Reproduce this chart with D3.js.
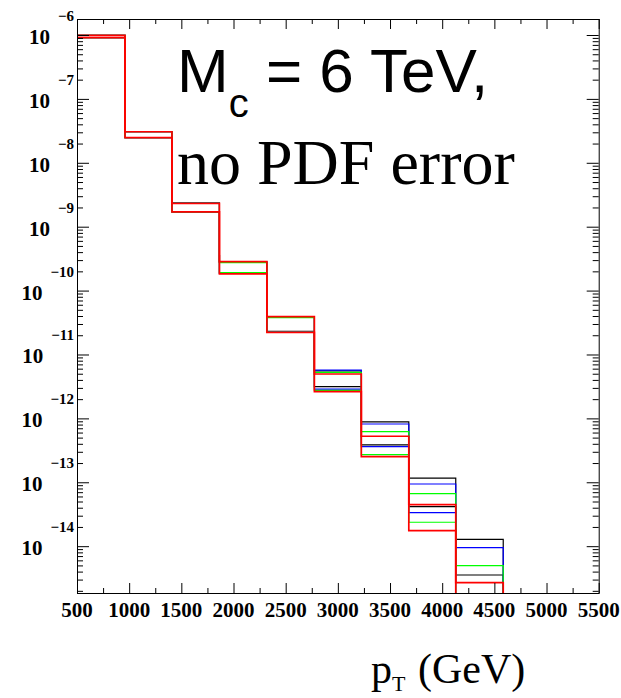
<!DOCTYPE html>
<html>
<head>
<meta charset="UTF-8">
<style>
  * { margin: 0; padding: 0; }
  body { background: #fff; }
  svg { display: block; }
  .lbl { font-family: "Liberation Serif", serif; font-weight: bold; font-size: 21px; fill: #000; }
  .tick line { stroke: #000; }
  .domain { display: none; }
</style>
<script src="https://d3js.org/d3.v7.min.js"></script>
<title>pT spectrum</title>
</head>
<body>
<svg id="chart" width="621" height="698"></svg>
<script>
// bin edges in GeV
var binEdges = [500, 960, 1410, 1865, 2320, 2775, 3225, 3680, 4130, 4585];

// upper / lower curves per colour
var blackUp = [9.88e-7, 3.06e-8, 2.38e-9, 2.80e-10, 3.85e-11, 5.52e-12, 8.79e-13, 1.16e-13, 1.28e-14];
var blackDn = [9.07e-7, 2.47e-8, 1.71e-9, 1.88e-10, 2.31e-11, 3.13e-12, 3.84e-13, 4.16e-14, 3.54e-15];
var blueUp  = [9.88e-7, 3.06e-8, 2.39e-9, 2.78e-10, 3.80e-11, 5.71e-12, 8.17e-13, 9.40e-14, 9.48e-15];
var blueDn  = [9.07e-7, 2.47e-8, 1.71e-9, 1.86e-10, 2.28e-11, 2.88e-12, 3.61e-13, 3.35e-14, 1.50e-15];
var greenUp = [9.88e-7, 3.06e-8, 2.35e-9, 2.73e-10, 3.77e-11, 5.26e-12, 6.19e-13, 6.63e-14, 4.96e-15];
var greenDn = [9.07e-7, 2.47e-8, 1.70e-9, 1.91e-10, 2.25e-11, 2.75e-12, 2.70e-13, 2.37e-14, 1.10e-15];
var redUp   = [9.88e-7, 3.06e-8, 2.32e-9, 2.83e-10, 3.91e-11, 4.95e-12, 5.25e-13, 4.47e-14, 2.69e-15];
var redDn   = [9.07e-7, 2.47e-8, 1.70e-9, 1.82e-10, 2.22e-11, 2.62e-12, 2.52e-13, 1.75e-14, 0.80e-15];

var xTickLabels = [500, 1000, 1500, 2000, 2500, 3000, 3500, 4000, 4500, 5000, 5500];
var yDecades = [-6, -7, -8, -9, -10, -11, -12, -13, -14];

var svg = d3.select("#chart");
var pL = 77, pR = 598.7, pT = 19, pB = 593;

var x = d3.scaleLinear().domain([500, 5500]).range([pL, pR]);
var y = d3.scaleLog().domain([1.85e-15, 1.78e-6]).range([pB, pT]);

svg.append("clipPath").attr("id", "clip")
    .append("rect")
    .attr("x", pL).attr("y", pT)
    .attr("width", pR - pL).attr("height", pB - pT);

function steps(vals, fromTop) {
    var pts = [];
    if (fromTop) pts.push([x(binEdges[0]), y.range()[1]]);
    vals.forEach(function (v, i) {
        pts.push([x(binEdges[i]), y(v)]);
        pts.push([x(binEdges[i + 1]), y(v)]);
    });
    pts.push([x(binEdges[binEdges.length - 1]), y.range()[0]]);
    return d3.line()(pts);
}

var series = [
    { v: blackUp, c: "#000000" }, { v: blackDn, c: "#000000" },
    { v: blueUp, c: "#0000ff" }, { v: blueDn, c: "#0000ff" },
    { v: greenUp, c: "#00ff00" }, { v: greenDn, c: "#00ff00" },
    { v: redUp, c: "#ff0000", fromTop: true }, { v: redDn, c: "#ff0000" }
];

var plot = svg.append("g").attr("clip-path", "url(#clip)");
plot.selectAll("path")
    .data(series)
    .enter()
    .append("path")
    .attr("d", function (d) { return steps(d.v, d.fromTop); })
    .attr("fill", "none")
    .attr("stroke", function (d) { return d.c; })
    .attr("stroke-width", function (d) { return d.c === "#ff0000" ? 1.7 : 1.2; });

// ticks
var xMinor = xTickLabels.slice(0, -1).map(function (v) { return v + 250; });
var yMinor = [];
for (var e = -15; e <= -6; e++) {
    for (var k = 2; k <= 9; k++) {
        var val = k * Math.pow(10, e);
        if (val > y.domain()[0] && val < y.domain()[1]) yMinor.push(val);
    }
}
var yMajor = yDecades.map(function (e) { return Math.pow(10, e); });

function axisG(tx, ty, ax) {
    svg.append("g").attr("transform", "translate(" + tx + "," + ty + ")").call(ax);
}
axisG(0, pB, d3.axisBottom(x).tickValues(xTickLabels).tickSize(-10).tickFormat(""));
axisG(0, pB, d3.axisBottom(x).tickValues(xMinor).tickSize(-5).tickFormat(""));
axisG(0, pT, d3.axisTop(x).tickValues(xTickLabels).tickSize(-10).tickFormat(""));
axisG(0, pT, d3.axisTop(x).tickValues(xMinor).tickSize(-5).tickFormat(""));
axisG(pL, 0, d3.axisRight(y).tickValues(yMajor).tickSize(12).tickFormat(""));
axisG(pL, 0, d3.axisRight(y).tickValues(yMinor).tickSize(6).tickFormat(""));
axisG(pR, 0, d3.axisLeft(y).tickValues(yMajor).tickSize(12).tickFormat(""));
axisG(pR, 0, d3.axisLeft(y).tickValues(yMinor).tickSize(6).tickFormat(""));

svg.append("rect")
    .attr("x", pL + 0.5).attr("y", pT + 0.5)
    .attr("width", pR - pL).attr("height", pB - pT)
    .attr("fill", "none").attr("stroke", "#000").attr("stroke-width", 1);

// x labels
svg.selectAll(".xl")
    .data(xTickLabels)
    .enter()
    .append("text")
    .attr("class", "lbl")
    .attr("x", function (d) { return x(d); })
    .attr("y", 617)
    .attr("text-anchor", "middle")
    .text(function (d) { return d; });

// y labels: 10 with exponent
var yl = svg.selectAll(".yl")
    .data(yDecades)
    .enter()
    .append("text")
    .attr("class", "lbl")
    .attr("x", 74)
    .attr("y", function (d) { return y(Math.pow(10, d)) + 9; })
    .attr("text-anchor", "end")
    .attr("font-size", "20px");
yl.append("tspan").text("10");
yl.append("tspan")
    .attr("dx", 8).attr("dy", -23)
    .attr("font-size", "15px")
    .text(function (d) { return "\u2212" + (-d); });

// titles
var t1 = svg.append("text")
    .attr("x", 177).attr("y", 92)
    .attr("font-family", "Liberation Sans, Arial, sans-serif")
    .attr("font-size", "62px");
t1.append("tspan").text("M");
t1.append("tspan").attr("font-size", "40px").attr("dy", 25).text("c");
t1.append("tspan").attr("dy", -25).text(" = 6 TeV,");

svg.append("text")
    .attr("x", 177).attr("y", 184)
    .attr("font-family", "Liberation Serif, Times New Roman, serif")
    .attr("font-size", "64px")
    .text("no PDF error");

var t3 = svg.append("text")
    .attr("x", 371).attr("y", 683)
    .attr("font-family", "Liberation Serif, Times New Roman, serif")
    .attr("font-size", "42px");
t3.append("tspan").text("p");
t3.append("tspan").attr("font-size", "22px").attr("dy", 8).text("T");
t3.append("tspan").attr("dy", -8).attr("dx", 2).text(" (GeV)");
</script>
</body>
</html>
